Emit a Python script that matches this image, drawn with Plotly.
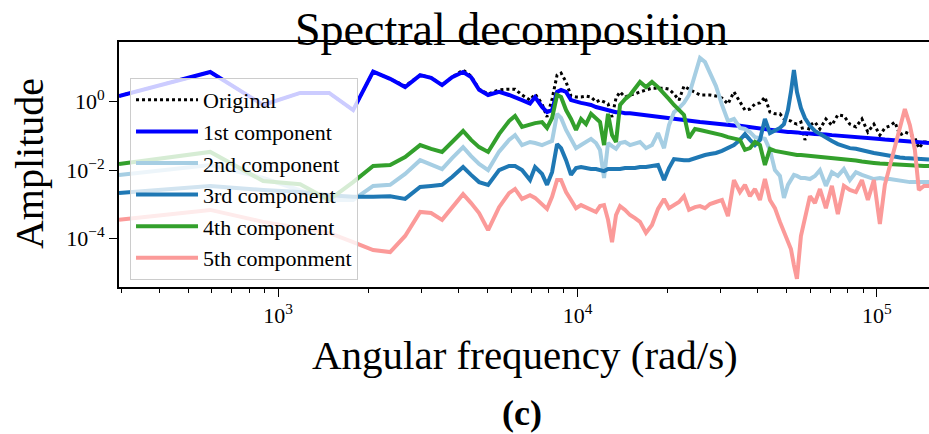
import numpy as np
import plotly.graph_objects as go

# ---------------- data ----------------
# angular frequency samples (rad/s)
freq = [294, 593, 891, 1184, 1480, 1780, 2076, 2366, 2655, 2980, 3243, 3528, 3811, 4147, 4410,
        4690, 5027, 5470, 5906, 6184, 6525,
        6940, 7214, 7612, 7910, 8222, 8544, 8810, 9155, 9512, 9886,
        10273, 10676, 11094, 11528, 11890, 12262, 12645, 13041, 13447, 13868,
        14410, 14975, 15560, 16170, 16930, 17730, 18570, 19450, 20210, 21000,
        21830, 22680, 23570, 24680, 25650, 26660, 27700, 29000, 30380, 31810,
        33310, 34880, 36250, 37670, 39150, 40680, 42270, 43930, 45650, 47440,
        48930, 50450, 51630, 52830, 54070, 55750, 57500, 59760, 62100, 64530,
        67560, 70740, 74070, 77580, 81220, 85110, 89130, 93300, 97720, 102330,
        106340, 110500, 114840, 119340, 124000, 128900, 133940, 138110, 143600, 149300]

# amplitudes, given as log10(amplitude)
original_log10 = [0.16, 0.86, -0.10, 0.25, 0.25, -0.25, 0.87, 0.66, 0.45, 0.77, 0.69, 0.48, 0.71, 0.92, 0.74,
                  0.36, 0.22, 0.34, 0.36, 0.36, 0.19,
                  0.04, 0.22, -0.07, -0.45, 0.07, 0.77, 0.83, 0.57, 0.16, 0.13,
                  0.13, 0.16, 0.13, -0.01, 0.04, -0.01, -0.07, -0.45, 0.10, 0.28,
                  0.13, 0.19, 0.22, 0.28, 0.34, 0.39, 0.39, 0.39, 0.36, 0.22,
                  0.04, 0.45, 0.36, 0.28, 0.19, 0.19, 0.19, 0.16, 0.10, -0.07,
                  0.28, -0.01, -0.25, -0.22, -0.07, -0.04, 0.13, -0.31, -0.36, -0.36,
                  -0.51, -0.54, -0.57, -0.63, -0.66, -0.60, -1.12, -0.69, -0.60, -0.80,
                  -0.51, -0.69, -0.39, -0.42, -0.66, -0.74, -0.51, -0.89, -0.66, -0.98,
                  -0.77, -0.71, -0.60, -0.98, -0.89, -0.95, -1.06, -1.36, -1.18, -1.18]

first_log10 = [0.16, 0.86, -0.10, 0.25, 0.25, -0.25, 0.87, 0.66, 0.42, 0.77, 0.69, 0.48, 0.71, 0.86, 0.71,
               0.34, 0.19, 0.28, 0.19, 0.13, 0.04,
               -0.06, 0.13, -0.16, -0.31, -0.25, 0.28, 0.34, 0.28, 0.04, -0.01,
               -0.04, -0.07, -0.10, -0.16, -0.19, -0.25, -0.28, -0.28, -0.31, -0.31,
               -0.34, -0.34, -0.36, -0.36, -0.39, -0.42, -0.45, -0.47, -0.48, -0.51,
               -0.52, -0.54, -0.57, -0.58, -0.60, -0.61, -0.63, -0.64, -0.66, -0.69,
               -0.70, -0.71, -0.73, -0.74, -0.77, -0.80, -0.82, -0.83, -0.85, -0.86,
               -0.87, -0.89, -0.89, -0.89, -0.90, -0.92, -0.92, -0.93, -0.95, -0.95,
               -0.96, -0.98, -0.99, -1.01, -1.02, -1.04, -1.05, -1.06, -1.08, -1.09,
               -1.11, -1.12, -1.14, -1.15, -1.17, -1.18, -1.18, -1.20, -1.20, -1.21]

second_log10 = [-2.14, -1.85, -2.23, -2.58, -2.87, -2.87, -2.46, -2.43, -2.11, -1.71, -1.85, -1.97, -1.65, -1.33, -1.59,
                -1.82, -2.00, -1.46, -1.12, -0.98, -1.27,
                -1.18, -1.21, -1.27, -1.21, -1.15, -0.36, -0.48, -0.83, -1.09, -1.36,
                -1.27, -1.18, -1.09, -1.21, -1.41, -2.23, -1.21, -1.30, -1.38, -1.21,
                -1.18, -1.27, -1.21, -1.18, -1.36, -1.27, -0.92, -1.36, -0.69, -0.31,
                -0.19, -0.04, 0.19, 0.80, 1.27, 1.15, 0.80, 0.45, -0.10, -0.57,
                -0.51, -0.77, -0.80, -0.89, -1.04, -1.06, -1.09, -1.41, -2.00, -2.17,
                -2.81, -2.43, -2.29, -2.14, -2.17, -2.23, -2.23, -2.26, -2.17, -2.00,
                -2.46, -2.06, -2.17, -1.97, -2.29, -2.06, -2.14, -2.20, -2.26, -2.23,
                -2.26, -2.26, -2.29, -2.32, -2.32, -2.35, -2.35, -2.35, -2.35, -2.35]

third_log10 = [-2.67, -2.46, -2.58, -2.64, -2.73, -2.78, -2.78, -2.76, -2.84, -2.49, -2.46, -2.43, -2.20, -1.91, -2.14,
               -2.35, -2.43, -2.00, -1.88, -1.88, -2.00,
               -2.29, -1.91, -2.11, -2.43, -2.06, -1.24, -1.36, -1.71, -2.14, -1.94,
               -1.91, -1.94, -1.97, -1.97, -2.00, -2.03, -1.97, -1.97, -1.97, -1.97,
               -1.94, -1.94, -1.94, -1.91, -1.91, -1.88, -1.85, -2.29, -1.94, -1.68,
               -1.71, -1.71, -1.71, -1.65, -1.59, -1.56, -1.53, -1.50, -1.44, -1.36,
               -1.27, -1.12, -0.95, -1.12, -1.27, -1.12, -0.51, -0.92, -0.86, -0.77,
               -0.66, -0.25, 0.28, 0.92, 0.28, -0.19, -0.48, -0.71, -0.86, -0.95,
               -1.06, -1.15, -1.24, -1.30, -1.36, -1.38, -1.43, -1.47, -1.50, -1.53,
               -1.56, -1.59, -1.62, -1.63, -1.65, -1.66, -1.68, -1.68, -1.68, -1.69]

fourth_log10 = [-1.82, -1.47, -2.32, -2.41, -2.87, -2.35, -1.88, -1.85, -1.62, -1.27, -1.38, -1.47, -1.18, -0.86, -1.12,
                -1.33, -1.47, -0.95, -0.57, -0.42, -0.74,
                -0.66, -0.63, -0.60, -0.77, -0.48, 0.19, 0.13, -0.25, -0.51, -0.83,
                -0.51, -0.66, -0.36, -0.48, -0.60, -1.27, -0.36, -0.98, -1.18, -0.10,
                0.07, 0.19, 0.39, 0.57, 0.42, 0.57, 0.42, 0.25, 0.07, -0.10,
                -0.25, -0.39, -1.06, -0.80, -0.83, -0.86, -0.89, -0.95, -0.98, -1.04,
                -1.09, -1.12, -1.41, -1.36, -1.18, -1.27, -1.85, -1.38, -1.44, -1.47,
                -1.50, -1.53, -1.53, -1.55, -1.56, -1.56, -1.57, -1.59, -1.60, -1.62,
                -1.63, -1.65, -1.66, -1.68, -1.71, -1.72, -1.75, -1.76, -1.79, -1.81,
                -1.82, -1.84, -1.85, -1.85, -1.87, -1.87, -1.88, -1.88, -1.88, -1.88]

fifth_log10 = [-3.45, -3.16, -3.51, -3.69, -3.83, -4.10, -4.33, -4.39, -3.92, -3.22, -3.25, -3.45, -3.08, -2.70, -2.96,
               -3.25, -3.75, -3.08, -2.67, -2.55, -2.84,
               -2.73, -2.81, -3.02, -3.13, -2.78, -2.29, -2.29, -2.64, -2.87, -3.11,
               -3.02, -3.08, -3.13, -3.22, -3.05, -3.02, -3.45, -4.10, -3.31, -3.05,
               -3.16, -3.31, -3.40, -3.51, -3.83, -3.60, -3.13, -2.84, -3.11, -3.02,
               -2.93, -2.76, -3.16, -3.08, -3.05, -3.11, -2.99, -2.93, -2.87, -3.34,
               -2.29, -2.64, -2.43, -2.76, -2.55, -2.87, -2.26, -2.87, -3.11, -3.51,
               -3.80, -4.10, -4.30, -4.77, -5.17, -3.92, -3.34, -2.76, -2.96, -2.55,
               -3.11, -2.46, -3.28, -2.46, -2.58, -2.64, -2.29, -2.87, -2.29, -3.57,
               -2.43, -1.85, -1.36, -0.74, -0.22, -0.69, -1.41, -2.58, -2.46, -2.46]

series_names = ["Original", "1st component", "2nd component", "3rd component",
                "4th component", "5th componment"]
series_values = [original_log10, first_log10, second_log10, third_log10, fourth_log10, fifth_log10]

x_tick_values = [1e3, 1e4, 1e5]
x_tick_text = ["10<sup>3</sup>", "10<sup>4</sup>", "10<sup>5</sup>"]
y_tick_values = [1e-4, 1e-2, 1e0]
y_tick_text = ["10<sup>\u22124</sup>", "10<sup>\u22122</sup>", "10<sup>0</sup>"]

# ---------------- styling ----------------
colors = ["black", "#0000ff", "#a6cee3", "#1f78b4", "#33a02c", "#fb9a99"]
dashes = ["dot", "solid", "solid", "solid", "solid", "solid"]
widths = [3, 4, 4, 4, 4, 4]
FONT = "Liberation Serif"

fig = go.Figure()
for name, vals, c, d, w in zip(series_names, series_values, colors, dashes, widths):
    fig.add_trace(go.Scatter(
        x=freq, y=np.power(10.0, np.array(vals)), mode="lines", name=name,
        line=dict(color=c, width=w, dash=d)))

minor_x = [m * 10 ** e for e in (2, 3, 4, 5) for m in range(2, 10)]

fig.update_layout(
    width=929, height=434,
    margin=dict(l=119, r=0, t=42, b=147, pad=0),
    paper_bgcolor="white", plot_bgcolor="white",
    font=dict(family=FONT, color="black"),
    showlegend=True,
    legend=dict(x=0.0136, y=0.853, xanchor="left", yanchor="top",
                bgcolor="rgba(255,255,255,0.8)", bordercolor="#cccccc", borderwidth=1,
                font=dict(size=22, family=FONT, color="black"), itemwidth=62,
                tracegroupgap=0),
    annotations=[
        dict(text="Spectral decomposition", x=0.484, y=1.049, xref="paper", yref="paper",
             xanchor="center", yanchor="middle", showarrow=False, font=dict(size=46, family=FONT)),
        dict(text="Amplitude", x=-0.111, y=0.502, xref="paper", yref="paper", textangle=-90,
             xanchor="center", yanchor="middle", showarrow=False, font=dict(size=40, family=FONT)),
        dict(text="Angular frequency (rad/s)", x=0.501, y=-0.278, xref="paper", yref="paper",
             xanchor="center", yanchor="middle", showarrow=False, font=dict(size=41, family=FONT)),
        dict(text="<b>(c)</b>", x=0.4975, y=-0.514, xref="paper", yref="paper",
             xanchor="center", yanchor="middle", showarrow=False, font=dict(size=36, family=FONT)),
    ],
)

fig.update_xaxes(type="log", range=[2.4683, 5.1741], showline=True, linecolor="black", linewidth=2,
                 mirror=True, ticks="outside", ticklen=8, tickwidth=1.2, tickcolor="black",
                 tickmode="array", tickvals=x_tick_values, ticktext=x_tick_text,
                 tickfont=dict(size=22, family=FONT, color="black"), showgrid=False, zeroline=False,
                 minor=dict(ticks="outside", ticklen=4, tickwidth=1, tickcolor="black",
                            tickmode="array", tickvals=minor_x, showgrid=False))
fig.update_yaxes(type="log", range=[-5.408, 1.735], showline=True, linecolor="black", linewidth=2,
                 mirror=False, ticks="outside", ticklen=8, tickwidth=1.2, tickcolor="black",
                 tickmode="array", tickvals=y_tick_values, ticktext=y_tick_text,
                 tickfont=dict(size=22, family=FONT, color="black"), showgrid=False, zeroline=False)

fig.write_html("out.html")
